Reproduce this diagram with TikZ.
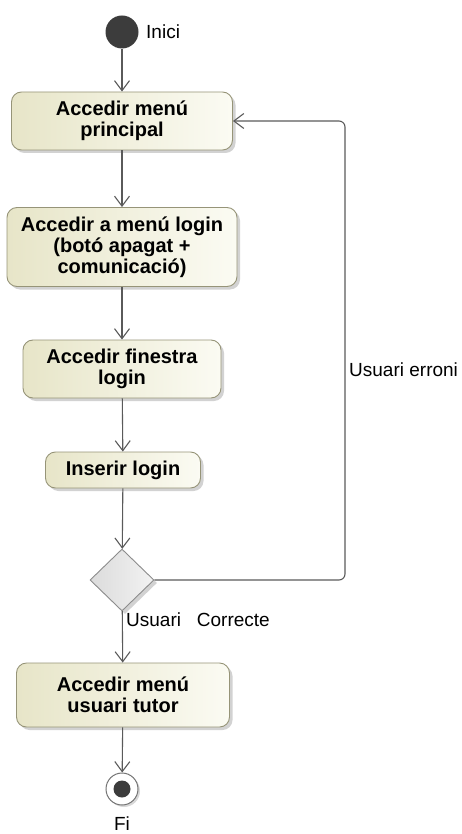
\documentclass[tikz,border=0pt]{standalone}
\usepackage{fontspec}
\setmainfont{Liberation Sans}
\usetikzlibrary{arrows.meta,shapes.geometric,shadows,positioning}
\definecolor{actdark}{RGB}{231,229,200}
\definecolor{actlight}{RGB}{251,251,243}
\definecolor{actline}{RGB}{150,148,120}
\definecolor{flowline}{RGB}{90,90,90}
\definecolor{nodedark}{RGB}{60,60,60}
\tikzset{
  action/.style={
    shape = rectangle,
    rounded corners = 10pt,
    draw = actline,
    line width = 0.9pt,
    left color = actdark,
    right color = actlight,
    drop shadow = {shadow xshift=3pt, shadow yshift=-3pt, fill=black!35, opacity=0.5},
    align = center,
    inner sep = 0pt,
    font = \bfseries\fontsize{20}{21}\selectfont
  },
  decision/.style={
    shape = diamond,
    aspect = 1,
    draw = black!45,
    line width = 0.9pt,
    left color = black!14,
    right color = black!5,
    drop shadow = {shadow xshift=3pt, shadow yshift=-3pt, fill=black!35, opacity=0.5},
    minimum width = 64pt,
    minimum height = 62pt,
    inner sep = 0pt
  },
  flow/.style={
    draw = flowline,
    line width = 1.1pt,
    -{Straight Barb[length=10pt, width=15pt]}
  },
  guard/.style={
    font = \fontsize{19}{20}\selectfont,
    inner sep = 0pt
  }
}
\begin{document}
\begin{tikzpicture}[x=1pt,y=-1pt]
  \useasboundingbox (0,0) rectangle (461,834);
  % initial and final nodes
  \node[circle, fill=nodedark, minimum size=33pt, inner sep=0pt] (ini) at (122,32) {};
  \node[guard, anchor=west] (inilab) at (146,32) {Inici};
  \node[circle, draw=black!55, line width=1pt, fill=white, minimum size=32pt, inner sep=0pt,
        drop shadow={shadow xshift=2pt, shadow yshift=-2pt, fill=black!30, opacity=0.5}] (fi) at (122,789) {};
  \node[circle, fill=nodedark, minimum size=17pt, inner sep=0pt] (fidot) at (fi) {};
  \node[guard, anchor=south] (filab) at (122,831) {Fi};
  % actions
  \node[action, minimum width=221pt, minimum height=58pt] (menu) at (122,121) {Accedir menú\\principal};
  \node[action, minimum width=230pt, minimum height=79pt] (login) at (122,247) {Accedir a menú login\\(botó apagat +\\comunicació)};
  \node[action, minimum width=198pt, minimum height=58pt] (finestra) at (122,369) {Accedir finestra\\login};
  \node[action, minimum width=155pt, minimum height=36pt] (inserir) at (123,470) {Inserir login};
  \node[decision] (dec) at (122,580) {};
  \node[action, minimum width=213pt, minimum height=64pt] (tutor) at (123,695) {Accedir menú\\usuari tutor};
  % flows
  \foreach \a/\b in {ini/menu, menu/login, login/finestra, finestra/inserir, inserir/dec, dec/tutor, tutor/fi}
    \draw[flow] (\a) -- (\b);
  \coordinate (loop) at (345,0);
  \draw[flow, rounded corners=6pt] (dec.east) -- (dec.east -| loop) -- (menu.east -| loop) -- (menu.east);
  % guards
  \node[guard, anchor=west] (erroni) at (349,370) {Usuari erroni};
  \node[guard, anchor=west] (correcte) at (126,620) {Usuari\ \ \ Correcte};
\end{tikzpicture}
\end{document}
